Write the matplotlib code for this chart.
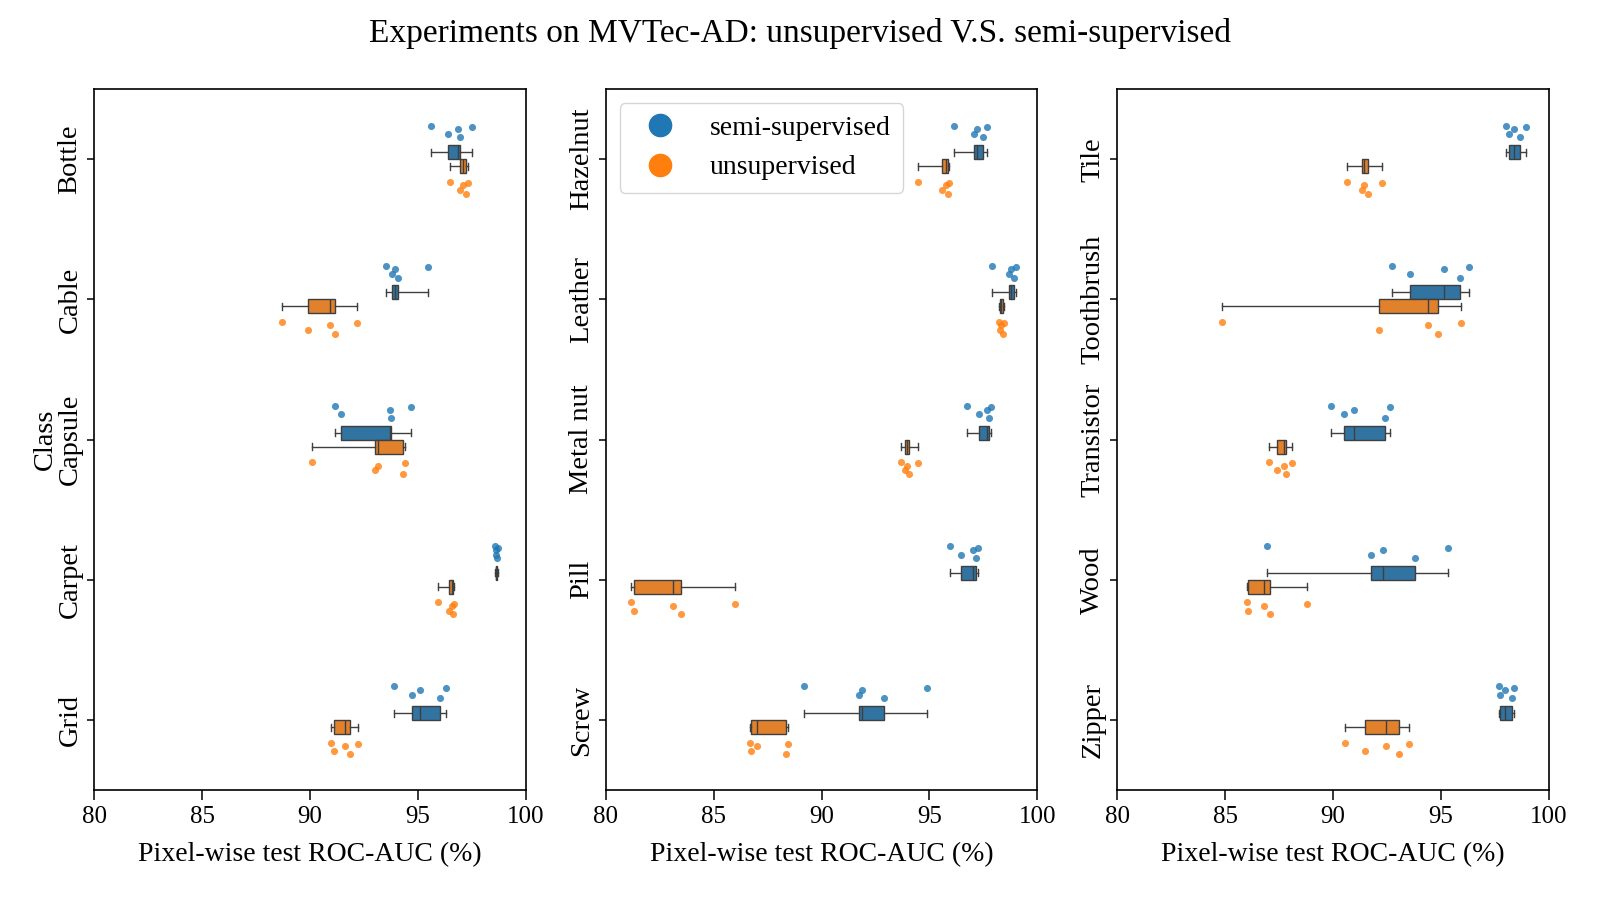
import numpy as np
import matplotlib.pyplot as plt
from matplotlib.lines import Line2D

plt.rcParams['font.family'] = ['Liberation Serif', 'DejaVu Serif']

# class names per panel (top to bottom)
classes_1 = ['Bottle', 'Cable', 'Capsule', 'Carpet', 'Grid']
classes_2 = ['Hazelnut', 'Leather', 'Metal nut', 'Pill', 'Screw']
classes_3 = ['Tile', 'Toothbrush', 'Transistor', 'Wood', 'Zipper']

# pixel-wise ROC-AUC (%) of the 5 runs, semi-supervised
semi_1 = [[95.6, 96.4, 96.85, 96.95, 97.5],
          [93.5, 93.8, 93.95, 94.05, 95.45],
          [91.15, 91.45, 93.7, 93.75, 94.65],
          [98.55, 98.6, 98.6, 98.65, 98.7],
          [93.9, 94.7, 95.1, 96.0, 96.3]]
semi_2 = [[96.15, 97.05, 97.2, 97.5, 97.65],
          [97.9, 98.7, 98.8, 98.9, 99.0],
          [96.75, 97.3, 97.65, 97.75, 97.85],
          [95.95, 96.45, 97.0, 97.15, 97.25],
          [89.2, 91.75, 91.85, 92.9, 94.9]]
semi_3 = [[98.0, 98.15, 98.4, 98.65, 98.95],
          [92.75, 93.55, 95.15, 95.9, 96.3],
          [89.9, 90.5, 90.95, 92.4, 92.65],
          [86.95, 91.75, 92.3, 93.8, 95.35],
          [97.7, 97.75, 97.95, 98.3, 98.4]]

# unsupervised
unsup_1 = [[96.5, 96.95, 97.1, 97.2, 97.3],
           [88.7, 89.9, 90.9, 91.15, 92.15],
           [90.1, 93.0, 93.15, 94.3, 94.4],
           [95.9, 96.45, 96.55, 96.6, 96.65],
           [90.95, 91.1, 91.6, 91.85, 92.2]]
unsup_2 = [[94.45, 95.6, 95.75, 95.85, 95.9],
           [98.2, 98.25, 98.3, 98.4, 98.45],
           [93.7, 93.85, 93.95, 94.05, 94.45],
           [81.15, 81.3, 83.1, 83.5, 86.0],
           [86.7, 86.75, 87.0, 88.35, 88.45]]
unsup_3 = [[90.65, 91.35, 91.45, 91.6, 92.25],
           [84.85, 92.15, 94.4, 94.85, 95.95],
           [87.05, 87.4, 87.75, 87.8, 88.1],
           [86.0, 86.05, 86.8, 87.1, 88.8],
           [90.55, 91.5, 92.45, 93.05, 93.5]]

labels = ['semi-supervised', 'unsupervised']
point_colors = ['#1f77b4', '#ff7f0e']
box_colors = ['#3274a1', '#e1812c']
edge = '#3f3f3f'
jitter = np.array([-0.04, 0.02, -0.015, 0.045, -0.03])


def draw_panel(ax, classes, semi, unsup):
    pos = np.arange(len(classes))
    for k, data in enumerate([semi, unsup]):
        shift = -0.05 if k == 0 else 0.05
        ax.boxplot(data, positions=pos + shift, widths=0.1, vert=False,
                   whis=(0, 100), showfliers=False, patch_artist=True,
                   manage_ticks=False,
                   boxprops=dict(facecolor=box_colors[k], edgecolor=edge, linewidth=1),
                   medianprops=dict(color=edge, linewidth=1),
                   whiskerprops=dict(color=edge, linewidth=1),
                   capprops=dict(color=edge, linewidth=1))
        off = -0.2 if k == 0 else 0.2
        for i, vals in enumerate(data):
            ax.scatter(vals, i + off + jitter, s=26, color=point_colors[k],
                       alpha=0.8, linewidths=0, zorder=3)
    ax.set_yticks(pos)
    ax.set_yticklabels(classes, rotation=90, va='center', fontsize=20.5)
    ax.set_ylim(len(classes) - 0.5, -0.5)
    ax.set_xlim(80, 100)
    ax.set_xticks([80, 85, 90, 95, 100])
    ax.tick_params(axis='x', labelsize=18, length=7, width=1.1, pad=4.5)
    ax.tick_params(axis='y', length=5, width=1.1)
    for sp in ax.spines.values():
        sp.set_linewidth(1.2)
    ax.set_xlabel('Pixel-wise test ROC-AUC (%)', fontsize=20, labelpad=10)


fig, axes = plt.subplots(1, 3, figsize=(16, 9), dpi=100)
fig.subplots_adjust(left=0.059, right=0.968, top=0.901, bottom=0.122, wspace=0.185)

draw_panel(axes[0], classes_1, semi_1, unsup_1)
draw_panel(axes[1], classes_2, semi_2, unsup_2)
draw_panel(axes[2], classes_3, semi_3, unsup_3)
axes[0].set_ylabel('Class', fontsize=20.5, labelpad=0)

handles = [Line2D([], [], marker='o', linestyle='none', markersize=16,
                  color=c) for c in point_colors]
axes[1].legend(handles, labels, loc='upper left', fontsize=20,
               handletextpad=0.8, borderpad=0.45, labelspacing=0.5)

fig.suptitle('Experiments on MVTec-AD: unsupervised V.S. semi-supervised',
             fontsize=24, y=0.98)

plt.savefig('out.png')
